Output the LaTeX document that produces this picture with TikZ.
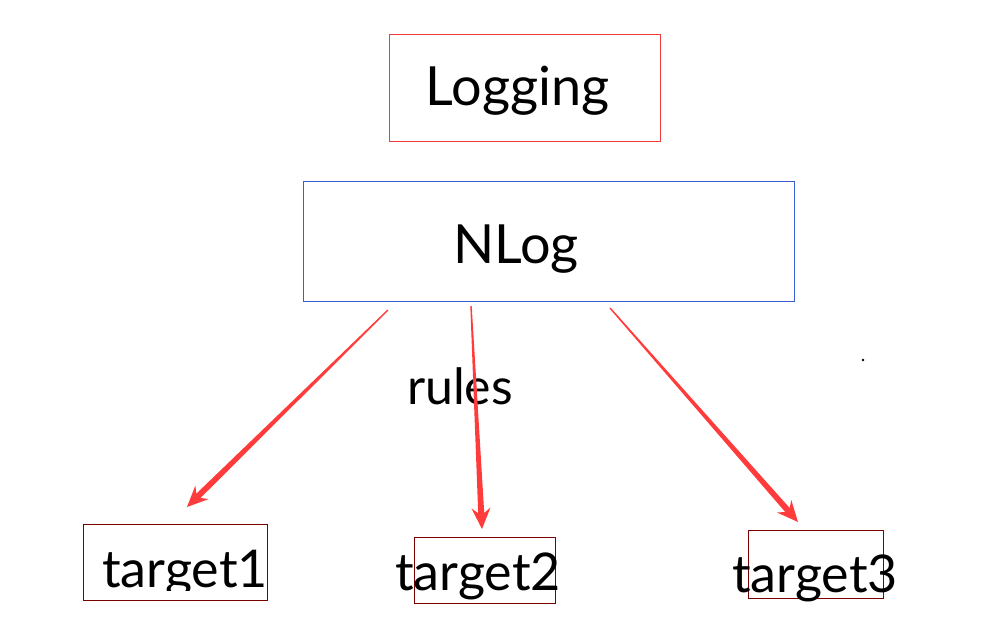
\documentclass[tikz,border=0pt]{standalone}
\usepackage{fontspec}
\setmainfont{Lato}
\usetikzlibrary{positioning,calc}
\definecolor{lred}{HTML}{EE3B3B}
\definecolor{nblue}{HTML}{3B5FD0}
\definecolor{tred}{HTML}{7A0000}
\definecolor{arr}{HTML}{FF3B3B}

% tapered arrow from #1 to #2
\newcommand{\taper}[2]{%
  \fill[arr] ($(#1)!0.7pt!90:(#2)$) -- ($($(#2)!16pt!(#1)$)!3pt!-90:(#1)$)
    -- ($($(#2)!21pt!(#1)$)!9.5pt!-90:(#1)$) -- (#2)
    -- ($($(#2)!21pt!(#1)$)!9.5pt!90:(#1)$) -- ($($(#2)!16pt!(#1)$)!3pt!90:(#1)$)
    -- ($(#1)!0.7pt!-90:(#2)$) -- cycle;}

\begin{document}
\begin{tikzpicture}[x=1pt,y=-1pt,
  box/.style={draw,line width=1pt,inner sep=0pt},
  big/.style={font=\fontsize{54}{64}\selectfont,anchor=base,inner sep=0pt},
  tgt/.style={font=\fontsize{52}{62}\selectfont,anchor=base,inner sep=0pt}]
  \useasboundingbox (0,0) rectangle (983,635);
  % boxes
  \node[box,draw=lred,minimum width=271pt,minimum height=107pt] (logbox) at (524.5,87.5) {};
  \node[box,draw=nblue,minimum width=491pt,minimum height=120pt] (nlogbox) at (548.5,241) {};
  \node[box,draw=tred,minimum width=184pt,minimum height=76pt] (t1box) at (175,562) {};
  \node[box,draw=tred,minimum width=141pt,minimum height=66pt] (t2box) at (484.5,570) {};
  \node[box,draw=tred,minimum width=135pt,minimum height=68pt] (t3box) at (815.5,564) {};
  % texts
  \node[big] (logging) at (517.5,105) {Logging};
  \node[big] (nlog) at (516,263) {NLog};
  \node[big,font=\fontsize{50}{60}\selectfont] (rules) at (460,404) {rules};
  \begin{scope}
    \clip (60,520) rectangle (300,590);
    \node[tgt] (t1) at (185,587) {target1};
  \end{scope}
  \begin{scope}
    \clip (380,520) rectangle (580,603);
    \node[tgt] (t2) at (478,590) {target2};
  \end{scope}
  \node[tgt] (t3) at (815,592) {target3};
  % arrows
  \coordinate (s1) at (388,310); \coordinate (e1) at (187,507);
  \coordinate (s2) at (471,306); \coordinate (e2) at (482,529);
  \coordinate (s3) at (610,308); \coordinate (e3) at (798,522);
  \taper{s1}{e1}
  \taper{s2}{e2}
  \taper{s3}{e3}
  \fill (863,360) circle (1.3);
\end{tikzpicture}
\end{document}
